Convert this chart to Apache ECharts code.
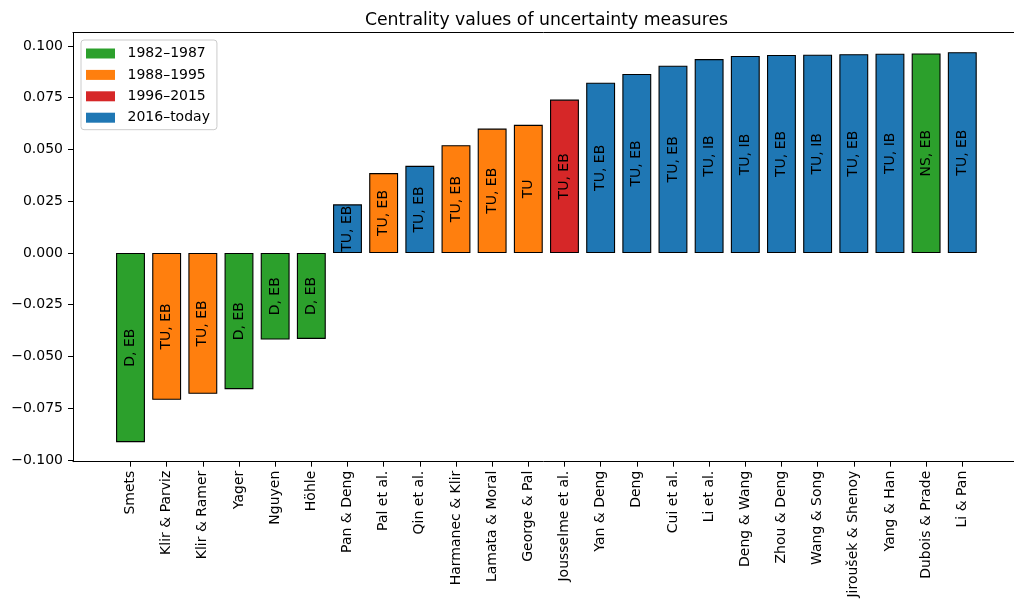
<!DOCTYPE html>
<html>
<head>
<meta charset="utf-8">
<script src="https://cdn.jsdelivr.net/npm/echarts@6/dist/echarts.min.js"></script>
<style>
  html, body { margin: 0; padding: 0; background: #ffffff; }
  #chart { width: 1014px; height: 603px; }
</style>
</head>
<body>
<div id="chart"></div>
<script>
// Uncertainty measures, sorted by centrality
const measures = [
  'Smets', 'Klir & Parviz', 'Klir & Ramer', 'Yager', 'Nguyen', 'Höhle',
  'Pan & Deng', 'Pal et al.', 'Qin et al.', 'Harmanec & Klir', 'Lamata & Moral',
  'George & Pal', 'Jousselme et al.', 'Yan & Deng', 'Deng', 'Cui et al.',
  'Li et al.', 'Deng & Wang', 'Zhou & Deng', 'Wang & Song', 'Jiroušek & Shenoy',
  'Yang & Han', 'Dubois & Prade', 'Li & Pan'
];
const centrality = [
  -0.0914, -0.0709, -0.0680, -0.0658, -0.0418, -0.0415,
  0.0235, 0.0386, 0.0421, 0.0521, 0.0601,
  0.0619, 0.0741, 0.0823, 0.0865, 0.0905,
  0.0937, 0.0952, 0.0957, 0.0958, 0.0960,
  0.0963, 0.0964, 0.0970
];
// index into `periods` for each measure
const periodOf = [0, 1, 1, 0, 0, 0, 3, 1, 3, 1, 1, 1, 2, 3, 3, 3, 3, 3, 3, 3, 3, 3, 0, 3];
// properties shown inside each bar
const tags = [
  'D, EB', 'TU, EB', 'TU, EB', 'D, EB', 'D, EB', 'D, EB',
  'TU, EB', 'TU, EB', 'TU, EB', 'TU, EB', 'TU, EB',
  'TU', 'TU, EB', 'TU, EB', 'TU, EB', 'TU, EB',
  'TU, IB', 'TU, IB', 'TU, EB', 'TU, IB', 'TU, EB',
  'TU, IB', 'NS, EB', 'TU, EB'
];
const periods = ['1982–1987', '1988–1995', '1996–2015', '2016–today'];
const periodColors = ['#2ca02c', '#ff7f0e', '#d62728', '#1f77b4'];
const yTicks = [-0.1, -0.075, -0.05, -0.025, 0, 0.025, 0.05, 0.075, 0.1];

const FONT = 'DejaVu Sans';

// x range: 5% padding on the left of the bars; the right side of the frame
// falls just past the canvas edge, so the visible range stops a bit short
const xMin = -1.59, xMax = 24.43;
// y range with 5% padding around the bars
const yLo = Math.min(0, ...centrality), yHi = Math.max(0, ...centrality);
const yPad = 0.05 * (yHi - yLo);

const idx = measures.map((_, i) => i);
const fmtY = v => (v < 0 ? '\u2212' : '') + Math.abs(v).toFixed(3);

const series = periods.map((name, p) => ({
  type: 'bar',
  name: name,
  barWidth: 28.9,
  barGap: '-100%',
  data: idx.filter(i => periodOf[i] === p).map(i => [i, centrality[i]]),
  itemStyle: { color: periodColors[p], borderColor: '#000000', borderWidth: 1.1 },
  label: {
    show: true,
    position: 'inside',
    rotate: 90,
    color: '#000000',
    fontSize: 14,
    fontFamily: FONT,
    formatter: prm => tags[prm.value[0]]
  },
  emphasis: { disabled: true }
}));

const chart = echarts.init(document.getElementById('chart'), null, { renderer: 'canvas' });
chart.setOption({
  animation: false,
  backgroundColor: '#ffffff',
  title: {
    text: 'Centrality values of uncertainty measures',
    left: 541.5,
    textAlign: 'center',
    top: 7,
    textStyle: { fontFamily: FONT, fontSize: 17.3, fontWeight: 'normal', color: '#000000' }
  },
  legend: {
    orient: 'vertical',
    left: 81,
    top: 40,
    padding: [5.5, 7, 4, 5],
    itemWidth: 29,
    itemHeight: 10,
    itemGap: 5.4,
    icon: 'rect',
    itemStyle: { borderWidth: 0 },
    borderColor: '#cccccc',
    borderWidth: 1,
    borderRadius: 3,
    backgroundColor: 'rgba(255,255,255,0.8)',
    textStyle: { fontFamily: FONT, fontSize: 14, color: '#000000', lineHeight: 16, padding: [0, 0, 0, 7.5] },
    data: periods
  },
  grid: { left: 73, right: 0, top: 32.7, height: 429, containLabel: false },
  xAxis: [
    {
      type: 'value',
      min: xMin,
      max: xMax,
      axisLine: { show: true, onZero: false, lineStyle: { color: '#000000', width: 1 } },
      axisTick: { show: true, length: 5, customValues: idx, lineStyle: { color: '#000000', width: 1 } },
      axisLabel: {
        customValues: idx,
        rotate: 90,
        margin: 9,
        fontFamily: FONT,
        fontSize: 14,
        color: '#000000',
        formatter: v => measures[Math.round(v)]
      },
      splitLine: { show: false }
    },
    {
      type: 'value',
      position: 'top',
      min: xMin,
      max: xMax,
      axisLine: { show: true, onZero: false, lineStyle: { color: '#000000', width: 1 } },
      axisTick: { show: false },
      axisLabel: { show: false },
      splitLine: { show: false }
    }
  ],
  yAxis: {
    type: 'value',
    min: yLo - yPad,
    max: yHi + yPad,
    axisLine: { show: true, onZero: false, lineStyle: { color: '#000000', width: 1 } },
    axisTick: { show: true, length: 5, customValues: yTicks, lineStyle: { color: '#000000', width: 1 } },
    axisLabel: {
      customValues: yTicks,
      margin: 10,
      fontFamily: FONT,
      fontSize: 14,
      color: '#000000',
      formatter: fmtY
    },
    splitLine: { show: false }
  },
  series: series
});
</script>
</body>
</html>
